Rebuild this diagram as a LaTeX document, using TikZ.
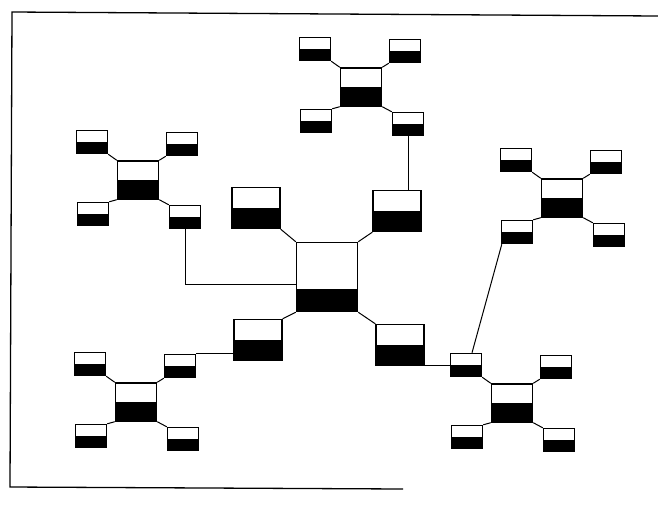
\documentclass[tikz,border=0pt]{standalone}
\usetikzlibrary{positioning}
\tikzset{
  bx/.style={draw, line width=1.4pt, minimum width=31pt, minimum height=23pt,
             inner sep=0pt,
             path picture={\fill (path picture bounding box.west)
               rectangle (path picture bounding box.south east);}},
  hb/.style={bx, minimum width=41pt, minimum height=38pt},
  cb/.style={bx, minimum width=48pt, minimum height=41pt},
  mh/.style={draw, line width=1.5pt, minimum width=61pt, minimum height=69pt,
             path picture={\fill ([yshift=-12pt]path picture bounding box.west)
               rectangle (path picture bounding box.south east);}},
  ln/.style={line width=1pt},
}
\begin{document}
\begin{tikzpicture}[x=1pt, y=-1pt]
    \useasboundingbox (0,0) rectangle (658,515);
    \draw[line width=1.3pt] (403,489) -- (10,487) -- (12,12) -- (658,16);
    \node[mh] (hub) at (327,277) {};
    \node[cb] (cul) at (256,208) {};
    \node[cb] (cur) at (397,211) {};
    \node[cb] (cll) at (258,340) {};
    \node[cb] (clr) at (400,345) {};
    \draw[ln] (cul.south east) -- (hub.north west);
    \draw[ln] (cur.south west) -- (hub.north east);
    \draw[ln] (cll.north east) -- (hub.south west);
    \draw[ln] (clr.north west) -- (hub.south east);
    \foreach \n/\p in {t/{(361,87)}, lu/{(138,180)}, ll/{(136,402)},
                       lr/{(512,403)}, ru/{(562,198)}} {
      \node[hb] (\n) at \p {};
      \node[bx] (\n-ul) at ([shift={(-46,-38)}]\n) {};
      \node[bx] (\n-ur) at ([shift={(44,-36)}]\n) {};
      \node[bx] (\n-ll) at ([shift={(-45,34)}]\n) {};
      \node[bx] (\n-lr) at ([shift={(47,37)}]\n) {};
      \draw[ln] (\n-ul.south east) -- (\n.north west);
      \draw[ln] (\n-ur.south west) -- (\n.north east);
      \draw[ln] (\n-ll.north east) -- (\n.south west);
      \draw[ln] (\n-lr.north west) -- (\n.south east);
    }
    \draw[ln] (t-lr.south) -- (t-lr.south |- cur.north);
    \draw[ln] (lu-lr.south) |- ([yshift=-7pt]hub.west);
    \draw[ln] (ll-ur.north east) -- (ll-ur.north east -| cll.west);
    \draw[ln] (lr-ul.west) -- (lr-ul.west -| clr.east);
    \draw[ln] ([xshift=1pt]ru-ll.south west) -- ([xshift=6pt]lr-ul.north);
  \end{tikzpicture}
\end{document}
